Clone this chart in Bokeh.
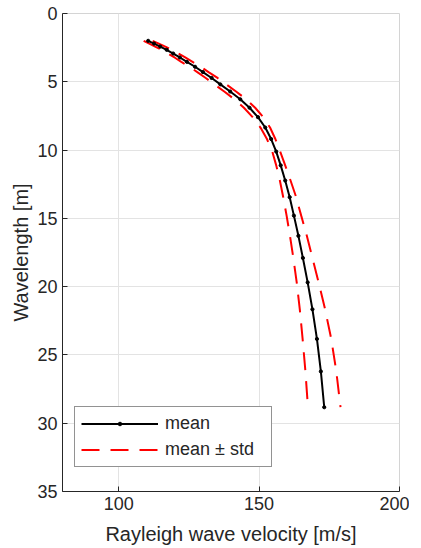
from bokeh.plotting import figure
from bokeh.models import Range1d, FixedTicker, Legend, LegendItem
from bokeh.embed import file_html
from bokeh.resources import INLINE

# Data
wavelength = [2.00, 2.20, 2.42, 2.66, 2.93, 3.22, 3.54, 3.90, 4.29, 4.72,
              5.19, 5.71, 6.28, 6.90, 7.59, 8.35, 9.19, 10.11, 11.12, 12.23,
              13.45, 14.80, 16.28, 17.90, 19.69, 21.66, 23.83, 26.21, 28.83]
mean_velocity = [110.5, 112.6, 114.8, 117.1, 119.4, 121.8, 124.3, 127.2, 130.0, 133.1,
                 136.2, 139.7, 143.3, 146.6, 149.6, 152.2, 154.3, 156.1, 157.7, 159.3,
                 160.9, 162.4, 164.0, 165.6, 167.3, 169.0, 170.6, 172.0, 173.2]
std_velocity = [1.6, 1.7, 1.8, 1.8, 1.9, 1.9, 2.0, 2.0, 2.0, 2.1,
                2.1, 2.1, 2.1, 2.0, 1.9, 1.7, 1.5, 1.4, 1.6, 1.9,
                2.3, 2.6, 3.0, 3.4, 3.9, 4.5, 5.1, 5.5, 5.8]
x_ticks = [100, 150, 200]
y_ticks = [0, 5, 10, 15, 20, 25, 30, 35]

lower = [m - s for m, s in zip(mean_velocity, std_velocity)]
upper = [m + s for m, s in zip(mean_velocity, std_velocity)]

FONT = "Liberation Sans"
TXT = "#262626"

p = figure(frame_width=337, frame_height=478,
           x_range=Range1d(80, 200), y_range=Range1d(35, 0),
           output_backend="svg", toolbar_location=None,
           min_border_left=62, min_border_top=13, min_border_right=10,
           min_border_bottom=48)

p.background_fill_color = "white"
p.border_fill_color = "white"
p.outline_line_color = "#d4d4d4"
p.outline_line_width = 1

for ax in (p.xaxis[0], p.yaxis[0]):
    ax.axis_line_color = TXT
    ax.axis_line_width = 1
    ax.major_tick_line_color = TXT
    ax.major_tick_in = 5
    ax.major_tick_out = 0
    ax.minor_tick_line_color = None
    ax.major_label_text_font = FONT
    ax.major_label_text_font_size = "18px"
    ax.major_label_text_color = TXT
    ax.axis_label_text_font = FONT
    ax.axis_label_text_font_size = "20px"
    ax.axis_label_text_font_style = "normal"
    ax.axis_label_text_color = TXT

p.xaxis.ticker = FixedTicker(ticks=x_ticks)
p.yaxis.ticker = FixedTicker(ticks=y_ticks)
p.xaxis.axis_label = "Rayleigh wave velocity [m/s]"
p.yaxis.axis_label = "Wavelength [m]"
p.xaxis.major_label_standoff = 5
p.yaxis.major_label_standoff = 5
p.xaxis.axis_label_standoff = 10
p.yaxis.axis_label_standoff = 2

p.xgrid.ticker = FixedTicker(ticks=x_ticks)
p.ygrid.ticker = FixedTicker(ticks=y_ticks)
p.grid.grid_line_color = "#e3e3e3"
p.grid.grid_line_width = 1

r_lo = p.line(lower, wavelength, line_color="red", line_width=2, line_dash="18 11")
r_hi = p.line(upper, wavelength, line_color="red", line_width=2, line_dash="18 11")
r_mean = p.line(mean_velocity, wavelength, line_color="black", line_width=2)
r_pts = p.scatter(mean_velocity, wavelength, marker="circle", size=3.2,
                  fill_color="black", line_color="black")

legend = Legend(items=[
    LegendItem(label="mean", renderers=[r_mean, r_pts]),
    LegendItem(label="mean \u00b1 std", renderers=[r_lo]),
], location=(12, 24))
legend.label_text_font = FONT
legend.label_text_font_size = "18px"
legend.label_text_color = TXT
legend.glyph_width = 77
legend.glyph_height = 9
legend.label_height = 20
legend.label_width = 100
legend.label_standoff = 7
legend.spacing = 5
legend.padding = 6
legend.margin = 0
legend.border_line_color = TXT
legend.border_line_width = 1
legend.background_fill_color = "white"
legend.background_fill_alpha = 1
p.add_layout(legend)

open("out.html", "w").write(file_html(p, INLINE))
